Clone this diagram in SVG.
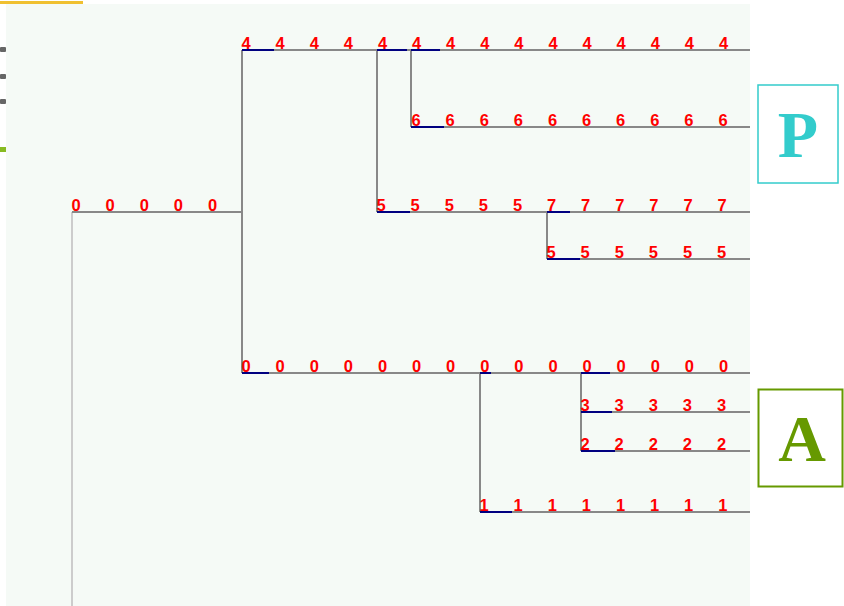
<svg xmlns="http://www.w3.org/2000/svg" width="844" height="606" viewBox="0 0 844 606">
<style>
.l{font-family:"Liberation Sans",Arial,sans-serif;font-size:16.5px;font-weight:bold;fill:#ff0000}
.e{stroke:#888888;stroke-width:2;fill:none}
.b{stroke:#000080;stroke-width:2;fill:none}
.r{stroke:#cccccc;stroke-width:2;fill:none}
.big{font-family:"Liberation Serif","Times New Roman",serif;font-weight:bold;font-size:66px;text-anchor:middle}
</style>
<rect x="0" y="0" width="844" height="606" fill="#ffffff"/>
<rect x="6" y="4" width="744" height="602" fill="#f5faf6"/>
<rect x="0" y="1" width="83" height="3" fill="#f0c030"/>
<g id="edge-marks" fill="#666666">
<rect x="0" y="47" width="6" height="5" rx="1"/>
<rect x="0" y="74" width="6" height="5" rx="1"/>
<rect x="0" y="99" width="6" height="5" rx="1"/>
<rect x="0" y="147" width="6" height="5" fill="#88bb22"/>
</g>
<g id="connectors">
<path class="r" d="M72 212V606"/>
<path class="e" d="M72 212H242M242 50V373M242 50H750M377 50V212M411 50V127M411 127H750M377 212H750M547 212V259M547 259H750M242 373H750M480 373V512M480 512H750M581 373V451M581 412H750M581 451H750"/>
<path class="b" d="M242 50H274M377 50H407M411 50H440M411 127H444M377 212H410M547 212H570M547 259H580M242 373H269M480 373H491M480 512H512M581 373H610M581 412H612M581 451H615"/>
</g>
<g id="node-root">
<text class="l" x="71.5" y="211">0</text><text class="l" x="105.6" y="211">0</text><text class="l" x="139.7" y="211">0</text><text class="l" x="173.8" y="211">0</text><text class="l" x="207.9" y="211">0</text>
</g>
<g id="node-4">
<text class="l" x="241.5" y="49">4</text><text class="l" x="275.6" y="49">4</text><text class="l" x="309.7" y="49">4</text><text class="l" x="343.8" y="49">4</text><text class="l" x="377.9" y="49">4</text><text class="l" x="412" y="49">4</text><text class="l" x="446.1" y="49">4</text><text class="l" x="480.2" y="49">4</text><text class="l" x="514.3" y="49">4</text><text class="l" x="548.4" y="49">4</text><text class="l" x="582.5" y="49">4</text><text class="l" x="616.6" y="49">4</text><text class="l" x="650.7" y="49">4</text><text class="l" x="684.8" y="49">4</text><text class="l" x="718.9" y="49">4</text>
</g>
<g id="node-6">
<text class="l" x="411.5" y="126">6</text><text class="l" x="445.6" y="126">6</text><text class="l" x="479.7" y="126">6</text><text class="l" x="513.8" y="126">6</text><text class="l" x="547.9" y="126">6</text><text class="l" x="582" y="126">6</text><text class="l" x="616.1" y="126">6</text><text class="l" x="650.2" y="126">6</text><text class="l" x="684.3" y="126">6</text><text class="l" x="718.4" y="126">6</text>
</g>
<g id="node-57">
<text class="l" x="376.5" y="211">5</text><text class="l" x="410.6" y="211">5</text><text class="l" x="444.7" y="211">5</text><text class="l" x="478.8" y="211">5</text><text class="l" x="512.9" y="211">5</text><text class="l" x="547" y="211">7</text><text class="l" x="581.1" y="211">7</text><text class="l" x="615.2" y="211">7</text><text class="l" x="649.3" y="211">7</text><text class="l" x="683.4" y="211">7</text><text class="l" x="717.5" y="211">7</text>
</g>
<g id="node-5">
<text class="l" x="546.5" y="258">5</text><text class="l" x="580.6" y="258">5</text><text class="l" x="614.7" y="258">5</text><text class="l" x="648.8" y="258">5</text><text class="l" x="682.9" y="258">5</text><text class="l" x="717" y="258">5</text>
</g>
<g id="node-0">
<text class="l" x="241.5" y="372">0</text><text class="l" x="275.6" y="372">0</text><text class="l" x="309.7" y="372">0</text><text class="l" x="343.8" y="372">0</text><text class="l" x="377.9" y="372">0</text><text class="l" x="412" y="372">0</text><text class="l" x="446.1" y="372">0</text><text class="l" x="480.2" y="372">0</text><text class="l" x="514.3" y="372">0</text><text class="l" x="548.4" y="372">0</text><text class="l" x="582.5" y="372">0</text><text class="l" x="616.6" y="372">0</text><text class="l" x="650.7" y="372">0</text><text class="l" x="684.8" y="372">0</text><text class="l" x="718.9" y="372">0</text>
</g>
<g id="node-3">
<text class="l" x="580.5" y="411">3</text><text class="l" x="614.6" y="411">3</text><text class="l" x="648.7" y="411">3</text><text class="l" x="682.8" y="411">3</text><text class="l" x="716.9" y="411">3</text>
</g>
<g id="node-2">
<text class="l" x="580.5" y="450">2</text><text class="l" x="614.6" y="450">2</text><text class="l" x="648.7" y="450">2</text><text class="l" x="682.8" y="450">2</text><text class="l" x="716.9" y="450">2</text>
</g>
<g id="node-1">
<text class="l" x="479.5" y="511">1</text><text class="l" x="513.6" y="511">1</text><text class="l" x="547.7" y="511">1</text><text class="l" x="581.8" y="511">1</text><text class="l" x="615.9" y="511">1</text><text class="l" x="650" y="511">1</text><text class="l" x="684.1" y="511">1</text><text class="l" x="718.2" y="511">1</text>
</g>
<g id="box-P">
<rect x="758" y="85" width="80" height="98" fill="#ffffff" stroke="#33cccc" stroke-width="1.5"/>
<text class="big" x="798" y="157" fill="#33cccc">P</text>
</g>
<g id="box-A">
<rect x="758.5" y="389.5" width="84" height="97" fill="#ffffff" stroke="#669900" stroke-width="2"/>
<text class="big" x="802" y="461" fill="#669900">A</text>
</g>
</svg>
